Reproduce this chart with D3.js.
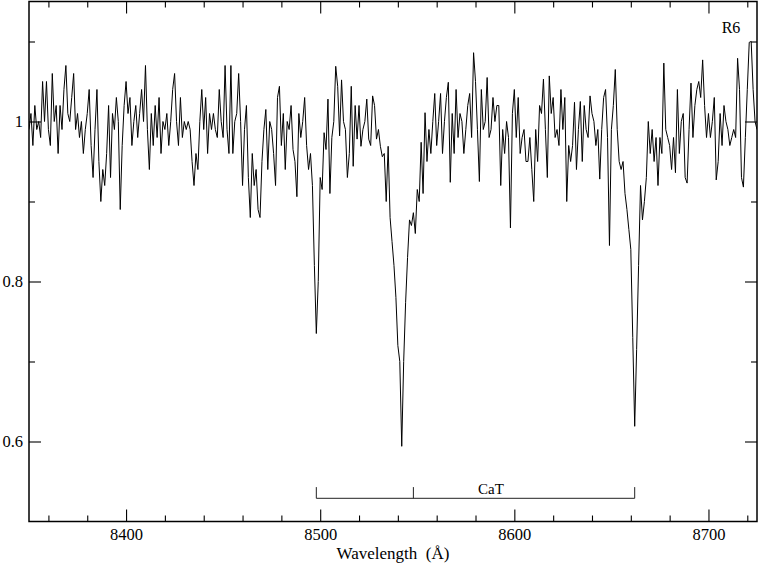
<!DOCTYPE html>
<html>
<head>
<meta charset="utf-8">
<script src="https://cdn.jsdelivr.net/npm/d3@7"></script>
<style>
  html, body { margin: 0; padding: 0; background: #fff; }
  svg { display: block; }
  text { font-family: "Liberation Serif", "Times New Roman", serif; fill: #000; }
</style>
</head>
<body>
<svg id="chart" width="759" height="567"></svg>
<script>
// ---- data ----
const wavelengthStart = 8350;   // Å, first sample
const wavelengthStep = 1;       // Å per sample
const flux = [
  0.99, 1.01, 0.97, 1.02, 0.99, 1.00, 0.98, 1.05, 1.00, 1.05,
  0.99, 0.97, 1.06, 1.00, 1.02, 0.96, 1.02, 0.99, 1.04, 1.07,
  1.01, 1.00, 1.03, 1.06, 0.99, 1.01, 0.98, 1.00, 0.96, 0.99,
  1.01, 1.04, 0.97, 0.93, 0.99, 1.04, 0.95, 0.90, 0.94, 0.92,
  0.96, 1.02, 0.93, 1.01, 0.99, 1.03, 1.00, 0.89, 0.97, 1.02,
  1.05, 1.01, 1.03, 0.97, 1.00, 1.02, 0.98, 1.01, 1.04, 1.00,
  1.07, 0.99, 0.94, 1.01, 0.97, 1.02, 0.98, 1.03, 0.96, 1.00,
  0.99, 1.01, 0.97, 1.00, 1.04, 1.06, 1.00, 0.97, 1.03, 0.98,
  1.00, 0.99, 1.00, 0.99, 0.95, 0.92, 0.96, 0.94, 1.00, 1.04,
  0.99, 1.03, 0.96, 1.01, 0.99, 1.01, 0.99, 0.98, 1.04, 1.00,
  0.98, 1.07, 0.99, 0.96, 1.07, 0.96, 1.00, 1.01, 1.06, 1.00,
  0.92, 0.99, 1.02, 0.93, 0.88, 0.96, 0.92, 0.94, 0.89, 0.88,
  0.95, 0.99, 1.015, 0.94, 1.00, 0.99, 0.96, 0.92, 1.03, 1.044,
  0.97, 1.01, 0.94, 1.00, 0.99, 1.02, 0.965, 0.95, 0.906, 1.01,
  0.98, 1.00, 1.03, 0.97, 0.94, 0.96, 0.92, 0.82, 0.735, 0.80,
  0.93, 0.915, 0.986, 0.965, 1.028, 0.91, 0.98, 1.00, 1.069, 1.044,
  0.982, 1.052, 1.00, 0.99, 0.93, 0.96, 1.044, 0.944, 1.02, 0.978,
  1.02, 0.969, 0.99, 1.00, 1.028, 0.978, 0.97, 1.032, 1.02, 0.978,
  0.99, 0.969, 0.956, 0.96, 0.90, 0.969, 0.88, 0.85, 0.82, 0.78,
  0.72, 0.70, 0.594, 0.70, 0.774, 0.83, 0.877, 0.87, 0.886, 0.86,
  0.915, 0.90, 0.974, 0.91, 1.011, 0.95, 0.99, 0.96, 1.00, 1.035,
  0.97, 1.00, 1.035, 0.96, 1.00, 1.03, 1.049, 0.924, 1.01, 0.96,
  1.04, 0.98, 1.01, 1.00, 0.96, 0.99, 1.02, 1.035, 0.98, 1.086,
  1.05, 0.99, 0.925, 1.04, 0.99, 1.00, 1.055, 0.98, 0.99, 1.03,
  1.00, 1.02, 1.02, 0.92, 0.99, 0.96, 1.00, 0.98, 0.867, 1.01,
  1.04, 0.98, 1.03, 0.96, 0.98, 0.99, 0.95, 0.95, 0.98, 0.94,
  0.90, 0.99, 0.95, 1.02, 1.01, 1.053, 0.99, 0.93, 1.057, 1.01,
  1.03, 0.98, 0.99, 0.97, 1.04, 0.99, 1.03, 0.90, 0.97, 0.95,
  0.97, 1.024, 0.94, 0.99, 1.025, 0.95, 1.02, 0.99, 0.98, 1.032,
  1.01, 1.00, 0.97, 0.99, 0.928, 0.99, 1.03, 1.04, 0.98, 0.845,
  0.99, 1.02, 1.065, 0.99, 0.95, 0.94, 0.95, 0.91, 0.89, 0.865,
  0.84, 0.73, 0.619, 0.715, 0.82, 0.92, 0.877, 0.90, 0.93, 1.00,
  0.96, 0.99, 0.95, 0.98, 0.92, 0.98, 0.96, 1.073, 0.99, 0.98,
  0.97, 0.94, 0.98, 0.936, 1.04, 0.96, 1.00, 1.01, 0.93, 0.923,
  0.99, 1.048, 0.98, 1.02, 1.04, 1.05, 1.03, 1.077, 1.02, 0.98,
  1.01, 0.98, 1.00, 1.03, 0.927, 0.95, 1.01, 0.97, 1.02, 1.00,
  0.99, 0.97, 0.98, 0.99, 0.98, 1.079, 1.04, 0.93, 0.918, 0.98,
  1.04, 1.099, 1.10, 1.04, 1.00, 0.99
];
const xDomain = [8350, 8725];
const yDomain = [0.5, 1.15];
const xMajorTicks = [8400, 8500, 8600, 8700];
const xMinorTicks = [8360, 8380, 8420, 8440, 8460, 8480, 8520, 8540, 8560, 8580,
                     8620, 8640, 8660, 8680, 8720];
const yMajorTicks = [0.6, 0.8, 1.0];
const yMinorTicks = [0.7, 0.9, 1.1];
const catLines = [8498, 8548, 8662];   // marker positions as drawn
const catLabel = "CaT";
const catLabelPos = 8588;
const catLevel = 0.529;
const catTickTop = 0.543;
const panelLabel = "R6";
const xTitle = "Wavelength  (Å)";

(function () {
// ---- layout ----
const svg = d3.select("#chart");
const mL = 29, mR = 757, mT = 1.5, mB = 521.5;
const x = d3.scaleLinear().domain(xDomain).range([mL, mR]);
const y = d3.scaleLinear().domain(yDomain).range([mB, mT]);

const data = flux.map((v, i) => ({ w: wavelengthStart + i * wavelengthStep, v }));

// clip
svg.append("clipPath").attr("id", "clip")
  .append("rect").attr("x", mL).attr("y", mT)
  .attr("width", mR - mL).attr("height", mB - mT);

// spectrum
svg.append("path")
  .datum(data)
  .attr("clip-path", "url(#clip)")
  .attr("fill", "none")
  .attr("stroke", "#000")
  .attr("stroke-width", 1)
  .attr("d", d3.line().x(d => x(d.w)).y(d => y(d.v)));

// axes helper
function addAxis(gen, transform, values, size, withLabels, padding, fontSize) {
  const g = svg.append("g").attr("transform", transform)
    .call(gen.tickValues(values).tickSize(-size).tickPadding(padding)
      .tickFormat(withLabels ? d3.format("~g") : () => ""));
  g.select(".domain").remove();
  g.selectAll(".tick line").attr("stroke", "#000").attr("stroke-width", 1.1);
  g.selectAll("text").attr("font-size", fontSize).attr("fill", "#000")
    .style("font-family", "'Liberation Serif', 'Times New Roman', serif");
  return g;
}
const fs = "16.5px";
addAxis(d3.axisBottom(x), `translate(0,${mB})`, xMajorTicks, 12, true, 7, fs);
addAxis(d3.axisBottom(x), `translate(0,${mB})`, xMinorTicks, 6, false, 7, fs);
addAxis(d3.axisTop(x), `translate(0,${mT})`, xMajorTicks, 12, false, 0, fs);
addAxis(d3.axisTop(x), `translate(0,${mT})`, xMinorTicks, 6, false, 0, fs);
addAxis(d3.axisLeft(y), `translate(${mL},0)`, yMajorTicks, 12, true, 6, fs);
addAxis(d3.axisLeft(y), `translate(${mL},0)`, yMinorTicks, 6, false, 6, fs);
addAxis(d3.axisRight(y), `translate(${mR},0)`, yMajorTicks, 12, false, 0, fs);
addAxis(d3.axisRight(y), `translate(${mR},0)`, yMinorTicks, 6, false, 0, fs);

// frame
svg.append("rect")
  .attr("x", mL).attr("y", mT)
  .attr("width", mR - mL).attr("height", mB - mT)
  .attr("fill", "none").attr("stroke", "#000").attr("stroke-width", 1.5);

// CaT marker
const cat = svg.append("g").attr("stroke", "#222").attr("stroke-width", 1).attr("fill", "none");
cat.append("line")
  .attr("x1", x(d3.min(catLines))).attr("x2", x(d3.max(catLines)))
  .attr("y1", y(catLevel)).attr("y2", y(catLevel));
cat.selectAll("line.tk").data(catLines).enter().append("line")
  .attr("class", "tk")
  .attr("x1", d => x(d)).attr("x2", d => x(d))
  .attr("y1", y(catLevel)).attr("y2", y(catTickTop));
svg.append("text")
  .attr("x", x(catLabelPos)).attr("y", y(catLevel) - 4.5)
  .attr("text-anchor", "middle").attr("font-size", "15px")
  .text(catLabel);

// panel label
svg.append("text")
  .attr("x", 731).attr("y", 33)
  .attr("text-anchor", "middle").attr("font-size", "16px")
  .text(panelLabel);

// x title
svg.append("text")
  .attr("x", (mL + mR) / 2).attr("y", 559)
  .attr("text-anchor", "middle").attr("font-size", "17px")
  .style("white-space", "pre")
  .attr("xml:space", "preserve")
  .text(xTitle);
})();
</script>
</body>
</html>
